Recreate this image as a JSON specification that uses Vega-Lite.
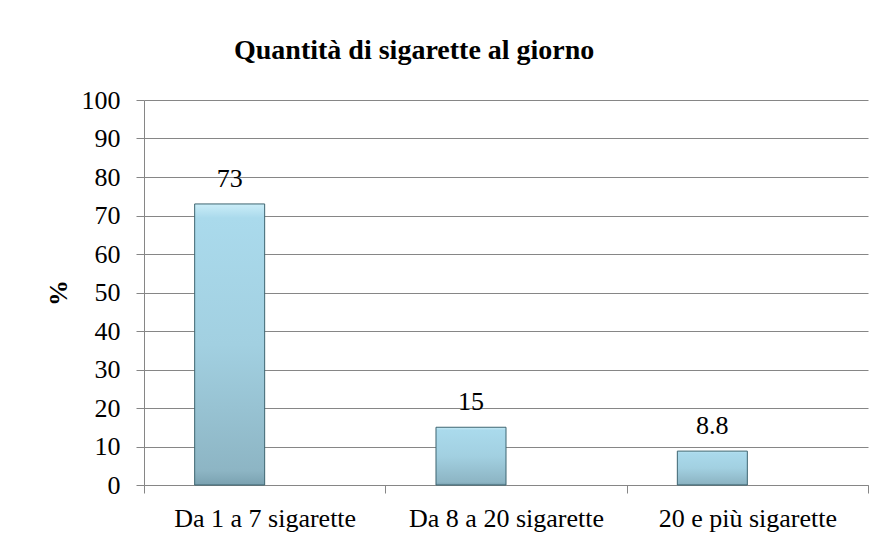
{
  "$schema": "https://vega.github.io/schema/vega-lite/v6.json",
  "width": 724,
  "height": 385,
  "autosize": {"type": "none"},
  "padding": {"left": 144, "top": 100, "right": 15, "bottom": 54},
  "background": "white",
  "config": {
    "view": {"stroke": null},
    "font": "'Liberation Serif', 'DejaVu Serif', serif"
  },
  "title": {
    "text": "Quantità di sigarette al giorno",
    "anchor": "start",
    "frame": "group",
    "dx": 90,
    "offset": 0,
    "baseline": "alphabetic",
    "font": "'Liberation Serif', 'DejaVu Serif', serif",
    "fontSize": 28,
    "fontWeight": "bold",
    "color": "#000000"
  },
  "data": {
    "values": [
      {"cat": "Da 1 a 7 sigarette", "s": "a", "v": 73, "lab": "73"},
      {"cat": "Da 8 a 20 sigarette", "s": "a", "v": 15, "lab": "15"},
      {"cat": "20 e più sigarette", "s": "a", "v": 8.8, "lab": "8.8"}
    ]
  },
  "encoding": {
    "x": {
      "field": "cat",
      "type": "nominal",
      "sort": null,
      "scale": {"paddingInner": 0, "paddingOuter": 0},
      "axis": {
        "title": null,
        "labelAngle": 0,
        "labelFont": "'Liberation Serif', 'DejaVu Serif', serif",
        "labelFontSize": 26,
        "labelColor": "#000000",
        "labelPadding": 12,
        "labelLimit": 400,
        "tickBand": "extent",
        "tickSize": 8,
        "tickColor": "#868686",
        "domainColor": "#868686",
        "grid": false
      }
    },
    "xOffset": {
      "field": "s",
      "type": "nominal",
      "scale": {"domain": ["a", "b"], "paddingInner": 0, "paddingOuter": 0.7238}
    },
    "y": {
      "field": "v",
      "type": "quantitative",
      "scale": {"domain": [0, 100], "nice": false},
      "axis": {
        "values": [0, 10, 20, 30, 40, 50, 60, 70, 80, 90, 100],
        "title": "%",
        "titleFont": "'Liberation Serif', 'DejaVu Serif', serif",
        "titleFontSize": 26,
        "titleFontWeight": "bold",
        "titleColor": "#000000",
        "titleX": -86,
        "titleY": 192.5,
        "titleAngle": -90,
        "titleAlign": "center",
        "titleBaseline": "middle",
        "labelFont": "'Liberation Serif', 'DejaVu Serif', serif",
        "labelFontSize": 26,
        "labelColor": "#000000",
        "labelPadding": 16,
        "tickSize": 8,
        "tickColor": "#868686",
        "domainColor": "#868686",
        "gridColor": "#868686",
        "gridOpacity": 1
      }
    }
  },
  "layer": [
    {
      "mark": {
        "type": "bar",
        "stroke": "#3d6470",
        "strokeWidth": 1,
        "color": {
          "gradient": "linear",
          "x1": 0, "y1": 0, "x2": 0, "y2": 1,
          "stops": [
            {"offset": 0, "color": "#cbedf8"},
            {"offset": 0.05, "color": "#aadaec"},
            {"offset": 0.5, "color": "#a2d0e1"},
            {"offset": 0.95, "color": "#8db5c4"},
            {"offset": 1, "color": "#7aa1b0"}
          ]
        }
      }
    },
    {
      "mark": {
        "type": "text",
        "font": "'Liberation Serif', 'DejaVu Serif', serif",
        "fontSize": 26,
        "color": "#000000",
        "baseline": "alphabetic",
        "dy": -17
      },
      "encoding": {"text": {"field": "lab"}}
    }
  ]
}
